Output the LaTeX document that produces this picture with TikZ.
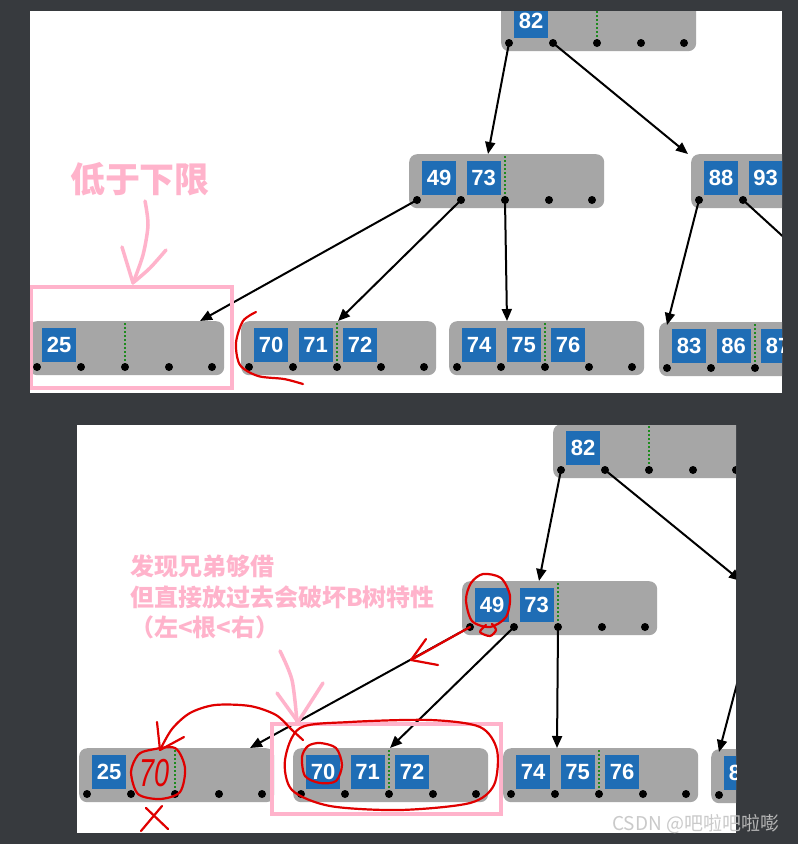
\documentclass[tikz,border=0pt]{standalone}
\usepackage{fontspec}
\setmainfont{Liberation Sans}
\newfontfamily\cjk{Noto Sans CJK SC}
\usetikzlibrary{arrows.meta,calc}
\definecolor{bgc}{HTML}{373A3E}
\definecolor{ngray}{HTML}{A6A6A6}
\definecolor{kblue}{HTML}{1F6DB5}
\definecolor{gdotc}{HTML}{1E8A1E}
\definecolor{hpink}{HTML}{FFB3CB}
\definecolor{hred}{HTML}{E00000}
\definecolor{wmc}{HTML}{C4C4C4}
\tikzset{
  bgray/.style={fill=ngray, rounded corners=8pt, minimum width=195pt, minimum height=54pt, inner sep=0pt},
  bkey/.style={fill=kblue, minimum width=34pt, minimum height=34pt, inner sep=0pt, text=white, font=\fontsize{22}{22}\selectfont\bfseries},
  bdot/.style={circle, fill=black, minimum size=8pt, inner sep=0pt},
  gline/.style={draw=gdotc, line width=2pt, dash pattern=on 2pt off 2pt},
  barrow/.style={draw=black, line width=2pt, -{Triangle[length=12pt,width=10pt]}},
  pinkline/.style={draw=hpink, line width=3.5pt, line cap=round, line join=round},
  redline/.style={draw=hred, line width=2.2pt, line cap=round, line join=round},
}
\newcommand\btnode[4]{%
  \node[bgray, anchor=north west] (#1) at (#2,#3) {};
  \draw[gline] ($(#1.north west)+(96,2)$) -- ($(#1.north west)+(96,44)$);
  \foreach \k [count=\i] in {#4} {%
    \node[bkey, anchor=north west] (#1k\i) at ($(#1.north west)+({13+44.5*(\i-1)},7)$) {\k};}
  \foreach \dx [count=\j] in {8,52,96,140,183} {%
    \node[bdot] (#1d\j) at ($(#1.north west)+(\dx,46)$) {};}
}
\begin{document}
\begin{tikzpicture}[x=1pt,y=-1pt]
\fill[bgc] (0,0) rectangle (798,844);
\useasboundingbox (0,0) rectangle (798,844);
% ---------------- top panel ----------------
\begin{scope}
\clip (30,11) rectangle (782,393);
\fill[white] (30,11) rectangle (782,393);
\btnode{R}{501}{-3}{82}
\btnode{A}{409}{154}{49,73}
\btnode{B}{691}{154}{88,93}
\btnode{La}{29}{321}{25}
\btnode{Lb}{241}{321}{70,71,72}
\btnode{Lc}{449}{321}{74,75,76}
\btnode{Ld}{659}{322}{83,86,87}
\coordinate (LeT) at (880,325);
\draw[barrow] (Rd1.center) -- ($(A.north west)+(79,0)$);
\draw[barrow] (Rd2.center) -- ($(B.north west)+(-3,0)$);
\draw[barrow] (Ad1.center) -- ($(La.north west)+(171,0)$);
\draw[barrow] (Ad2.center) -- ($(Lb.north west)+(97,0)$);
\draw[barrow] (Ad3.center) -- ($(Lc.north west)+(58,0)$);
\draw[barrow] (Bd1.center) -- ($(Ld.north west)+(8,3)$);
\draw[barrow] (Bd2.center) -- (LeT);
% annotations
\node[text=hpink, font=\cjk\bfseries\fontsize{35}{35}\selectfont, inner sep=0pt] (t1) at (140,179) {低于下限};
\draw[pinkline] plot[smooth] coordinates {(145,201) (148,225) (143,255) (133,283)};
\draw[pinkline] (122,247) -- (133,283);
\draw[pinkline] plot[smooth] coordinates {(166,250) (150,268) (134,282)};
\draw[draw=hpink, line width=4.5pt] (31,287) rectangle (232,388);
\draw[redline] plot[smooth] coordinates {(256,312) (243,321) (236,343) (240,365) (258,376) (284,379) (303,384)};
\end{scope}
% ---------------- bottom panel ----------------
\begin{scope}
\clip (77,425) rectangle (736,833);
\fill[white] (77,425) rectangle (736,833);
\btnode{R2}{553}{424}{82}
\btnode{A2}{462}{581}{49,73}
\btnode{La2}{79}{748}{25}
\btnode{Lb2}{293}{748}{70,71,72}
\btnode{Lc2}{503}{748}{74,75,76}
\btnode{Ld2}{711}{749}{83}
\coordinate (B2t) at (741,581);
\coordinate (B2d1) at (752,627);
\draw[barrow] (R2d1.center) -- ($(A2.north west)+(77,0)$);
\draw[barrow] (R2d2.center) -- (B2t);
\draw[barrow] (A2d1.center) -- ($(La2.north west)+(171,0)$);
\draw[barrow] (A2d2.center) -- ($(Lb2.north west)+(97,0)$);
\draw[barrow] (A2d3.center) -- ($(Lc2.north west)+(54,0)$);
\draw[barrow] (B2d1) -- ($(Ld2.north west)+(8,3)$);
% pink annotations
\node[anchor=west, align=left, text=hpink, font=\cjk\bfseries\fontsize{24}{30.5}\selectfont, inner sep=0pt] (t2) at (130,597) {发现兄弟够借\\但直接放过去会破坏B树特性\\（左<根<右）};
\draw[pinkline] plot[smooth] coordinates {(280,651) (292,680) (297,722)};
\draw[pinkline] (277,693) -- (298,722);
\draw[pinkline] (323,683) -- (298,722);
\draw[draw=hpink, line width=4pt] (272,724) rectangle (501,814);
% red annotations
\draw[redline] plot[smooth cycle] coordinates {(483,574) (501,578) (510,596) (506,617) (490,627) (472,621) (466,600) (471,583)};
\draw[redline] plot[smooth] coordinates {(486,625) (480,632) (490,636) (496,630) (492,624)};
\draw[redline] (470,627) -- (411,660);
\draw[redline] (426,639) -- (411,660) -- (438,665);
\draw[redline] plot[smooth] coordinates {(303,740) (292,730) (276,715) (250,706) (215,705) (190,713) (172,729) (160,750)};
\draw[redline] (157,722) -- (160,750) -- (184,737);
\draw[redline] plot[smooth cycle] coordinates {(150,750) (175,748) (185,768) (180,792) (160,799) (138,794) (131,772) (138,755)};
\node[text=hred, font=\fontsize{30}{30}\selectfont\itshape, inner sep=0pt] (h70) at (155,773) {\scalebox{0.9}[1.3]{70}};
\draw[redline] (162,806) -- (141,831);
\draw[redline] (146,808) -- (168,829);
\draw[redline] plot[smooth cycle] coordinates {(320,743) (336,748) (342,765) (336,781) (320,783) (305,776) (302,757) (308,746)};
\draw[redline] plot[smooth cycle] coordinates {(300,728) (350,722) (430,720) (480,727) (497,750) (494,785) (470,803) (400,810) (330,806) (292,790) (285,760)};
\end{scope}
\node[anchor=west, text=wmc, text opacity=0.9, font=\cjk\fontsize{19}{19}\selectfont, inner sep=0pt] (wm) at (612,824) {CSDN @吧啦吧啦嘭};
\end{tikzpicture}
\end{document}
